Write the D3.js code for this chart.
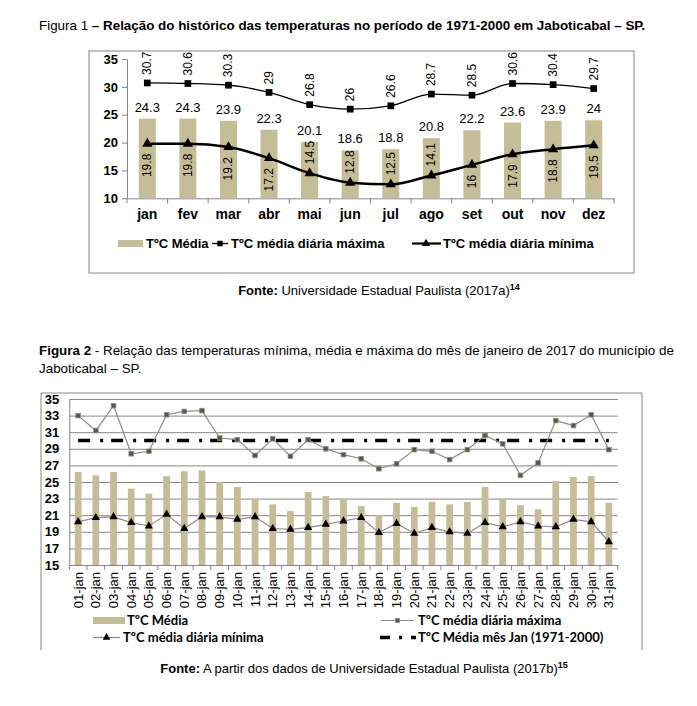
<!DOCTYPE html>
<html>
<head>
<meta charset="utf-8">
<script src="https://cdn.jsdelivr.net/npm/d3@7"></script>
<style>
  body { margin: 0; background: #fff; }
  svg { font-family: "Liberation Sans", Arial, sans-serif; }
</style>
</head>
<body>
<div id="chart"></div>
<script>
// Figura 1 - normais 1971-2000
var meses = ["jan", "fev", "mar", "abr", "mai", "jun", "jul", "ago", "set", "out", "nov", "dez"]
var tMedia = [24.3, 24.3, 23.9, 22.3, 20.1, 18.6, 18.8, 20.8, 22.2, 23.6, 23.9, 24]
var tMax = [30.7, 30.6, 30.3, 29, 26.8, 26, 26.6, 28.7, 28.5, 30.6, 30.4, 29.7]
var tMin = [19.8, 19.8, 19.2, 17.2, 14.5, 12.8, 12.5, 14.1, 16, 17.9, 18.8, 19.5]
var ticks1 = [10, 15, 20, 25, 30, 35]

// Figura 2 - janeiro de 2017
var dias = ["01-jan", "02-jan", "03-jan", "04-jan", "05-jan", "06-jan", "07-jan", "08-jan", "09-jan", "10-jan",
  "11-jan", "12-jan", "13-jan", "14-jan", "15-jan", "16-jan", "17-jan", "18-jan", "19-jan", "20-jan",
  "21-jan", "22-jan", "23-jan", "24-jan", "25-jan", "26-jan", "27-jan", "28-jan", "29-jan", "30-jan", "31-jan"]
var jMedia = [26.2, 25.8, 26.2, 24.2, 23.6, 25.7, 26.3, 26.4, 25.0, 24.4, 23.0, 22.3, 21.5, 23.8, 23.3, 23.0,
  22.1, 21.0, 22.5, 22.0, 22.6, 22.3, 22.6, 24.4, 23.0, 22.2, 21.7, 25.1, 25.6, 25.7, 22.5]
var jMax = [33.0, 31.2, 34.2, 28.4, 28.7, 33.1, 33.5, 33.6, 30.3, 30.1, 28.2, 30.2, 28.1, 30.1, 29.0, 28.3,
  27.8, 26.6, 27.2, 28.9, 28.7, 27.7, 28.9, 30.6, 29.6, 25.8, 27.3, 32.4, 31.8, 33.1, 28.9]
var jMin = [20.2, 20.7, 20.8, 20.1, 19.7, 21.1, 19.4, 20.8, 20.8, 20.5, 20.8, 19.4, 19.3, 19.5, 19.9, 20.3,
  20.7, 18.9, 20.0, 18.8, 19.5, 19.0, 18.8, 20.1, 19.6, 20.2, 19.7, 19.6, 20.5, 20.2, 17.8]
var jHist = 30
var ticks2 = [15, 17, 19, 21, 23, 25, 27, 29, 31, 33, 35]

var bege = "#c4bd97"
var cinza = "#868686"

var svg = d3.select("#chart")
  .append("svg")
  .attr("width", 697)
  .attr("height", 706)

// ---------- Figura 1 ----------
var t1 = svg.append("text").attr("x", 39).attr("y", 30).attr("font-size", 13.4)
t1.append("tspan").text("Figura 1 ")
t1.append("tspan").attr("font-weight", "bold").text("– Relação do histórico das temperaturas no período de 1971-2000 em Jaboticabal – SP.")

svg.append("rect")
  .attr("x", 89).attr("y", 51).attr("width", 545).attr("height", 222)
  .attr("fill", "none").attr("stroke", cinza)

var x1 = d3.scaleBand().domain(meses).range([127, 614])
var y1 = d3.scaleLinear().domain([10, 35]).range([198.3, 59])
var c1 = d => x1(d) + x1.bandwidth() / 2

var yAxis1 = svg.append("g")
  .attr("transform", "translate(127,0)")
  .call(d3.axisLeft(y1).tickValues(ticks1).tickSize(5).tickSizeOuter(0).tickPadding(4))
yAxis1.selectAll("line, path").attr("stroke", cinza)
yAxis1.selectAll("text").attr("font-size", 13).attr("font-weight", "bold").attr("fill", "#000")

var xAxis1 = svg.append("g")
  .attr("transform", "translate(0,198.3)")
  .call(d3.axisBottom(x1).tickSize(0).tickSizeOuter(0).tickPadding(11))
xAxis1.select("path").attr("stroke", cinza)
xAxis1.selectAll("text").attr("font-size", 14).attr("font-weight", "bold").attr("fill", "#000")
xAxis1.selectAll(".sep")
  .data(meses.concat(["fim"]))
  .enter()
  .append("line")
  .attr("x1", (d, i) => i < meses.length ? x1(d) : x1.range()[1])
  .attr("x2", (d, i) => i < meses.length ? x1(d) : x1.range()[1])
  .attr("y1", 0).attr("y2", 5)
  .attr("stroke", cinza)

var bw1 = x1.bandwidth() * 0.42
svg.append("g").selectAll("rect")
  .data(tMedia)
  .enter()
  .append("rect")
  .attr("x", (d, i) => c1(meses[i]) - bw1 / 2)
  .attr("y", d => y1(d))
  .attr("width", bw1)
  .attr("height", d => y1(10) - y1(d))
  .attr("fill", bege)

svg.append("g").selectAll("text")
  .data(tMedia)
  .enter()
  .append("text")
  .attr("x", (d, i) => c1(meses[i]))
  .attr("y", d => y1(d) - 7)
  .attr("text-anchor", "middle")
  .attr("font-size", 13)
  .text(d => d)

var line1 = d3.line()
  .x((d, i) => c1(meses[i]))
  .y(d => y1(d))
  .curve(d3.curveMonotoneX)

svg.append("path").datum(tMax)
  .attr("d", line1).attr("fill", "none").attr("stroke", "#000").attr("stroke-width", 1.3)
svg.append("path").datum(tMin)
  .attr("d", line1).attr("fill", "none").attr("stroke", "#000").attr("stroke-width", 2.5)

svg.append("g").selectAll("path")
  .data(tMax)
  .enter()
  .append("path")
  .attr("d", d3.symbol(d3.symbolSquare, 45))
  .attr("transform", (d, i) => `translate(${c1(meses[i])},${y1(d)})`)
  .attr("fill", "#000")

svg.append("g").selectAll("path")
  .data(tMin)
  .enter()
  .append("path")
  .attr("d", d3.symbol(d3.symbolTriangle, 45))
  .attr("transform", (d, i) => `translate(${c1(meses[i])},${y1(d)})`)
  .attr("fill", "#000")

// rotated labels
svg.append("g").selectAll("text")
  .data(tMax)
  .enter()
  .append("text")
  .attr("transform", (d, i) => `translate(${c1(meses[i])},${y1(d) - 8}) rotate(-90)`)
  .attr("dominant-baseline", "central")
  .attr("font-size", 12)
  .text(d => d)

svg.append("g").selectAll("text")
  .data(tMin)
  .enter()
  .append("text")
  .attr("transform", (d, i) => d >= 15
    ? `translate(${c1(meses[i])},${y1(d) + 10}) rotate(-90)`
    : `translate(${c1(meses[i])},${y1(d) - 9}) rotate(-90)`)
  .attr("text-anchor", d => d >= 15 ? "end" : "start")
  .attr("dominant-baseline", "central")
  .attr("font-size", 12)
  .text(d => d)

// legenda 1
var leg1 = svg.append("g").attr("font-size", 13).attr("font-weight", "bold")
leg1.append("rect").attr("x", 118).attr("y", 240).attr("width", 25).attr("height", 7).attr("fill", bege)
leg1.append("text").attr("x", 146).attr("y", 248).text("TºC Média")
leg1.append("line").attr("x1", 212).attr("x2", 228).attr("y1", 243.5).attr("y2", 243.5).attr("stroke", "#000").attr("stroke-width", 1.3)
leg1.append("path").attr("d", d3.symbol(d3.symbolSquare, 30)).attr("transform", "translate(220,243.5)")
leg1.append("text").attr("x", 231).attr("y", 248).text("TºC média diária máxima")
leg1.append("line").attr("x1", 412).attr("x2", 441).attr("y1", 243.5).attr("y2", 243.5).attr("stroke", "#000").attr("stroke-width", 2.2)
leg1.append("path").attr("d", d3.symbol(d3.symbolTriangle, 30)).attr("transform", "translate(426,243.5)")
leg1.append("text").attr("x", 443).attr("y", 248).text("TºC média diária mínima")

var f1 = svg.append("text").attr("x", 379).attr("y", 295).attr("text-anchor", "middle").attr("font-size", 13)
f1.append("tspan").attr("font-weight", "bold").text("Fonte:")
f1.append("tspan").text(" Universidade Estadual Paulista (2017a)")
f1.append("tspan").attr("font-weight", "bold").attr("font-size", 9).attr("dy", -5).text("14")

// ---------- Figura 2 ----------
var t2 = svg.append("text").attr("x", 39).attr("y", 355).attr("font-size", 13.4)
t2.append("tspan").attr("font-weight", "bold").text("Figura 2")
t2.append("tspan").text(" - Relação das temperaturas mínima, média e máxima do mês de janeiro de 2017 do município de")
svg.append("text").attr("x", 39).attr("y", 373).attr("font-size", 13.4).text("Jaboticabal – SP.")

var frame2 = svg.append("g").attr("stroke", cinza).attr("fill", "none")
frame2.append("path").attr("d", "M41,650V393H642V650")

var x2 = d3.scaleBand().domain(dias).range([69.3, 617.7])
var y2 = d3.scaleLinear().domain([15, 35]).range([565, 399])
var c2 = d => x2(d) + x2.bandwidth() / 2

var grid2 = svg.append("g")
  .attr("transform", "translate(69.3,0)")
  .call(d3.axisLeft(y2).tickValues(ticks2).tickSize(-(617.7 - 69.3)).tickSizeOuter(0).tickPadding(10))
grid2.select(".domain").attr("stroke", cinza)
grid2.selectAll("line").attr("stroke", cinza)
grid2.selectAll("text").attr("font-size", 13).attr("font-weight", "bold").attr("fill", "#000")

var xAxis2 = svg.append("g")
  .attr("transform", "translate(0,565)")
  .call(d3.axisBottom(x2).tickSize(0).tickSizeOuter(0).tickPadding(0))
xAxis2.select("path").attr("stroke", cinza)
xAxis2.selectAll("text")
  .attr("font-size", 13)
  .attr("fill", "#000")
  .attr("text-anchor", "end")
  .attr("dominant-baseline", "central")
  .attr("dy", null)
  .attr("transform", "translate(0,7) rotate(-90)")
xAxis2.selectAll(".sep")
  .data(dias.concat(["fim"]))
  .enter()
  .append("line")
  .attr("x1", (d, i) => i < dias.length ? x2(d) : x2.range()[1])
  .attr("x2", (d, i) => i < dias.length ? x2(d) : x2.range()[1])
  .attr("y1", 0).attr("y2", 5)
  .attr("stroke", cinza)

var bw2 = x2.bandwidth() * 0.38
svg.append("g").selectAll("rect")
  .data(jMedia)
  .enter()
  .append("rect")
  .attr("x", (d, i) => c2(dias[i]) - bw2 / 2)
  .attr("y", d => y2(d))
  .attr("width", bw2)
  .attr("height", d => y2(15) - y2(d))
  .attr("fill", bege)

svg.append("line")
  .attr("x1", c2(dias[0])).attr("x2", c2(dias[dias.length - 1]))
  .attr("y1", y2(jHist)).attr("y2", y2(jHist))
  .attr("stroke", "#000").attr("stroke-width", 3.5)
  .attr("stroke-dasharray", "12,10,3,8")

var line2 = d3.line()
  .x((d, i) => c2(dias[i]))
  .y(d => y2(d))

svg.append("path").datum(jMax)
  .attr("d", line2).attr("fill", "none").attr("stroke", "#8c8c8c").attr("stroke-width", 1.2)
svg.append("path").datum(jMin)
  .attr("d", line2).attr("fill", "none").attr("stroke", "#8c8c8c").attr("stroke-width", 1.2)

svg.append("g").selectAll("rect")
  .data(jMax)
  .enter()
  .append("rect")
  .attr("x", (d, i) => c2(dias[i]) - 2.3)
  .attr("y", d => y2(d) - 2.3)
  .attr("width", 4.6).attr("height", 4.6)
  .attr("fill", "#5a5545").attr("stroke", "#8c8c8c").attr("stroke-width", 0.8)

svg.append("g").selectAll("path")
  .data(jMin)
  .enter()
  .append("path")
  .attr("d", d3.symbol(d3.symbolTriangle, 30))
  .attr("transform", (d, i) => `translate(${c2(dias[i])},${y2(d)})`)
  .attr("fill", "#000")

// legenda 2
var leg2 = svg.append("g").attr("font-size", 13).attr("font-weight", "bold").attr("font-family", "Lato, sans-serif")
leg2.append("rect").attr("x", 93).attr("y", 617).attr("width", 32).attr("height", 7).attr("fill", bege)
leg2.append("text").attr("x", 127).attr("y", 625).text("TºC Média")
leg2.append("line").attr("x1", 381).attr("x2", 414).attr("y1", 620.5).attr("y2", 620.5).attr("stroke", "#8c8c8c").attr("stroke-width", 1.2)
leg2.append("rect").attr("x", 395.5).attr("y", 618.5).attr("width", 4).attr("height", 4).attr("fill", "#5a5545").attr("stroke", "#8c8c8c").attr("stroke-width", 0.8)
leg2.append("text").attr("x", 418).attr("y", 625).text("TºC média diária máxima")
leg2.append("line").attr("x1", 93).attr("x2", 120).attr("y1", 637.5).attr("y2", 637.5).attr("stroke", "#8c8c8c").attr("stroke-width", 1.2)
leg2.append("path").attr("d", d3.symbol(d3.symbolTriangle, 25)).attr("transform", "translate(106.5,637.5)")
leg2.append("text").attr("x", 123).attr("y", 642).text("TºC média diária mínima")
leg2.append("line").attr("x1", 380).attr("x2", 416).attr("y1", 637.5).attr("y2", 637.5)
  .attr("stroke", "#000").attr("stroke-width", 3.5).attr("stroke-dasharray", "10,9,3,9")
leg2.append("text").attr("x", 418).attr("y", 642).text("TºC Média mês Jan (1971-2000)")

var f2 = svg.append("text").attr("x", 364).attr("y", 673).attr("text-anchor", "middle").attr("font-size", 13)
f2.append("tspan").attr("font-weight", "bold").text("Fonte:")
f2.append("tspan").text(" A partir dos dados de Universidade Estadual Paulista (2017b)")
f2.append("tspan").attr("font-weight", "bold").attr("font-size", 9).attr("dy", -5).text("15")
</script>
</body>
</html>
